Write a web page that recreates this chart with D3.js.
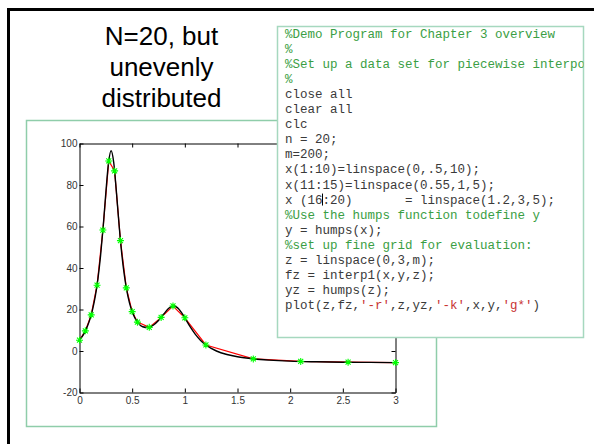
<!DOCTYPE html>
<html>
<head>
<meta charset="utf-8">
<script src="https://cdn.jsdelivr.net/npm/d3@7"></script>
<style>
  body { margin: 0; background: #fff; }
  svg { display: block; }
</style>
</head>
<body>
<div id="slide"></div>
<script>
(function() {

var sampleX = [0, 0.0556, 0.1111, 0.1667, 0.2222, 0.2778, 0.3333, 0.3889, 0.4444, 0.5,
               0.55, 0.6625, 0.775, 0.8875, 1.0,
               1.2, 1.65, 2.1, 2.55, 3.0];
var sampleY = [5.2, 9.7, 17.4, 31.7, 58.3, 91.6, 86.8, 53.2, 30.4, 19.0,
               13.9, 11.4, 16.2, 21.7, 16.0,
               2.9, -3.8, -5.0, -5.4, -5.6];

// fine black curve (humps on the dense grid)
var fineX = [0, 0.025, 0.05, 0.075, 0.1, 0.125, 0.15, 0.175, 0.2, 0.225, 0.25, 0.275, 0.3,
             0.325, 0.35, 0.375, 0.4, 0.425, 0.45, 0.475, 0.5, 0.525, 0.55, 0.6, 0.65, 0.7,
             0.75, 0.8, 0.85, 0.9, 0.95, 1.0, 1.05, 1.1, 1.15, 1.2, 1.3, 1.4, 1.5, 1.65,
             1.8, 2.0, 2.25, 2.5, 2.75, 3.0];
var fineY = [5.2, 6.9, 9.1, 11.9, 15.5, 20.2, 26.4, 34.8, 45.9, 60.0, 76.2, 90.4, 96.5,
             90.8, 76.9, 61.2, 47.4, 36.8, 28.9, 23.1, 19.0, 16.0, 13.9, 11.7, 11.3, 12.4,
             14.7, 17.8, 20.7, 21.7, 19.8, 16.0, 11.7, 8.0, 5.1, 2.9, 0.0, -1.7, -2.8, -3.8,
             -4.4, -4.9, -5.2, -5.4, -5.5, -5.6];

var xTicks = [0, 0.5, 1, 1.5, 2, 2.5, 3];
var yTicks = [-20, 0, 20, 40, 60, 80, 100];

var titleLines = ['N=20, but', 'unevenly', 'distributed'];

// code listing, each line split in [text, kind] pieces
var codeLines = [
    [['%Demo Program for Chapter 3 overview', 'c']],
    [['%', 'c']],
    [['%Set up a data set for piecewise interpolation', 'c']],
    [['%', 'c']],
    [['close all', 'n']],
    [['clear all', 'n']],
    [['clc', 'n']],
    [['n = 20;', 'n']],
    [['m=200;', 'n']],
    [['x(1:10)=linspace(0,.5,10);', 'n']],
    [['x(11:15)=linspace(0.55,1,5);', 'n']],
    [['x (16:20)       = linspace(1.2,3,5);', 'n']],
    [['%Use the humps function todefine y', 'c']],
    [['y = humps(x);', 'n']],
    [['%set up fine grid for evaluation:', 'c']],
    [['z = linspace(0,3,m);', 'n']],
    [['fz = interp1(x,y,z);', 'n']],
    [['yz = humps(z);', 'n']],
    [['plot(z,fz,', 'n'], ["'-r'", 's'], [',z,yz,', 'n'], ["'-k'", 's'], [',x,y,', 'n'], ["'g*'", 's'], [')', 'n']]
];

var codeColors = {c: '#3a9e44', n: '#3a3a3a', s: '#c83232'};

window.onload = drawSlide();

function drawSlide() {
    var width = 594,
        height = 444;

    var svg = d3.select('#slide')
        .append('svg')
        .attr('width', width)
        .attr('height', height);

    //slide border, runs off the right and bottom
    svg.append('rect')
        .attr('x', 8.5)
        .attr('y', 9.5)
        .attr('width', 700)
        .attr('height', 600)
        .attr('fill', 'none')
        .attr('stroke', '#000')
        .attr('stroke-width', 3);

    svg.append('text')
        .attr('text-anchor', 'middle')
        .style('font-family', 'Arial, "Liberation Sans", sans-serif')
        .style('font-size', '26px')
        .attr('fill', '#000')
        .selectAll('tspan')
        .data(titleLines)
        .join('tspan')
        .attr('x', 161.5)
        .attr('y', function(d, i) { return 45 + i * 31; })
        .text(function(d) { return d; });

    drawPlot(svg);
    drawCode(svg);
};

function drawPlot(svg) {
    //figure frame
    svg.append('rect')
        .attr('x', 26.5)
        .attr('y', 120.5)
        .attr('width', 410)
        .attr('height', 306)
        .attr('fill', '#fff')
        .attr('stroke', '#8fcdaa')
        .attr('stroke-width', 1.5);

    var left = 79.5, right = 395.5, top = 143.5, bottom = 392.5;

    var x = d3.scaleLinear().domain([0, 3]).range([left, right]);
    var y = d3.scaleLinear().domain([-20, 100]).range([bottom, top]);

    var fontStyle = function(g) {
        g.style('font-family', 'Arial, "Liberation Sans", sans-serif')
         .style('font-size', '10px');
        g.selectAll('text').attr('fill', '#333');
        g.selectAll('line').attr('stroke', '#000');
        g.select('.domain').attr('stroke', '#000');
    };

    svg.append('g')
        .attr('transform', 'translate(0,' + bottom + ')')
        .call(d3.axisBottom(x).tickValues(xTicks).tickFormat(function(d) { return String(d); })
            .tickSizeInner(-4).tickSizeOuter(0).tickPadding(4))
        .call(fontStyle);

    svg.append('g')
        .attr('transform', 'translate(' + left + ',0)')
        .call(d3.axisLeft(y).tickValues(yTicks).tickFormat(function(d) { return String(d); })
            .tickSizeInner(-4).tickSizeOuter(0).tickPadding(2))
        .call(fontStyle);

    svg.append('g')
        .attr('transform', 'translate(0,' + top + ')')
        .call(d3.axisTop(x).tickValues(xTicks).tickFormat('').tickSizeInner(-4).tickSizeOuter(0))
        .call(fontStyle);

    svg.append('g')
        .attr('transform', 'translate(' + right + ',0)')
        .call(d3.axisRight(y).tickValues(yTicks).tickFormat('').tickSizeInner(-4).tickSizeOuter(0))
        .call(fontStyle);

    var samples = sampleX.map(function(d, i) { return [d, sampleY[i]]; });
    var fine = fineX.map(function(d, i) { return [d, fineY[i]]; });

    //red: linear interpolation through the samples
    var redLine = d3.line()
        .x(function(d) { return x(d[0]); })
        .y(function(d) { return y(d[1]); });

    svg.append('path')
        .datum(samples)
        .attr('d', redLine)
        .attr('fill', 'none')
        .attr('stroke', '#ff0000')
        .attr('stroke-width', 1.2);

    //black: true function
    var blackLine = d3.line()
        .curve(d3.curveMonotoneX)
        .x(function(d) { return x(d[0]); })
        .y(function(d) { return y(d[1]); });

    svg.append('path')
        .datum(fine)
        .attr('d', blackLine)
        .attr('fill', 'none')
        .attr('stroke', '#000')
        .attr('stroke-width', 1.4);

    //green star markers
    var star = 'M-3.5,0H3.5M0,-3.5V3.5M-2.5,-2.5L2.5,2.5M-2.5,2.5L2.5,-2.5';
    svg.append('g')
        .selectAll('path')
        .data(samples)
        .join('path')
        .attr('transform', function(d) { return 'translate(' + x(d[0]) + ',' + y(d[1]) + ')'; })
        .attr('d', star)
        .attr('fill', 'none')
        .attr('stroke', '#00ff00')
        .attr('stroke-width', 1.1);
};

function drawCode(svg) {
    var bx = 277.5, by = 26.5, bw = 306, bh = 311;

    svg.append('clipPath')
        .attr('id', 'code-clip')
        .append('rect')
        .attr('x', bx)
        .attr('y', by)
        .attr('width', bw)
        .attr('height', bh);

    svg.append('rect')
        .attr('x', bx)
        .attr('y', by)
        .attr('width', bw)
        .attr('height', bh)
        .attr('fill', '#fff')
        .attr('stroke', '#a6d8bf')
        .attr('stroke-width', 1.5);

    var code = svg.append('g')
        .attr('clip-path', 'url(#code-clip)')
        .style('font-family', '"Liberation Mono", "Courier New", monospace')
        .style('font-size', '12.5px');

    code.selectAll('text')
        .data(codeLines)
        .join('text')
        .attr('x', 285)
        .attr('y', function(d, i) { return 38 + i * 15.05; })
        .attr('xml:space', 'preserve')
        .style('white-space', 'pre')
        .selectAll('tspan')
        .data(function(d) { return d; })
        .join('tspan')
        .attr('fill', function(d) { return codeColors[d[1]]; })
        .text(function(d) { return d[0]; });

    //text cursor left in the listing
    var cursorY = 38 + 11 * 15.05;
    svg.append('line')
        .attr('x1', 322.5)
        .attr('x2', 322.5)
        .attr('y1', cursorY - 10)
        .attr('y2', cursorY + 2)
        .attr('stroke', '#000')
        .attr('stroke-width', 1);
};
})();
</script>
</body>
</html>
